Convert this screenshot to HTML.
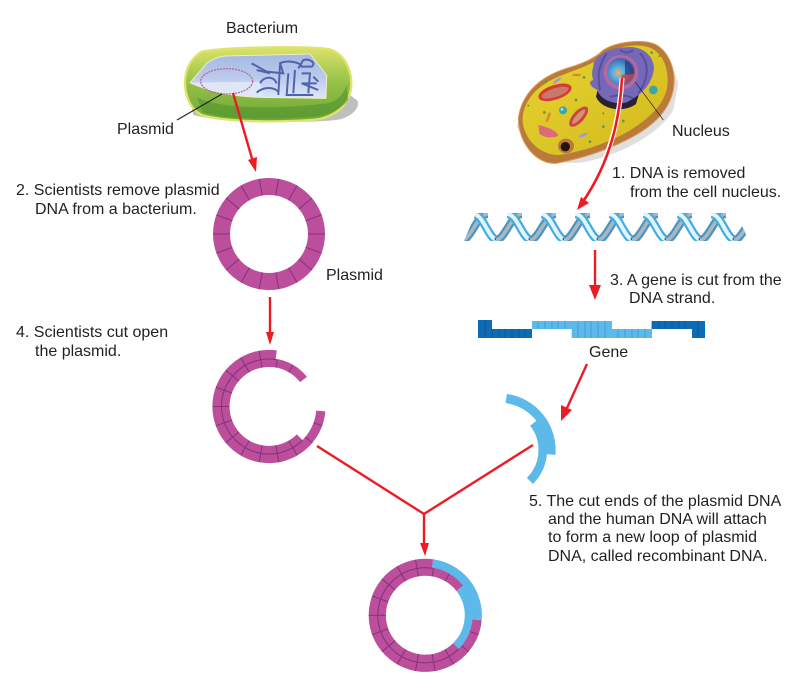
<!DOCTYPE html>
<html><head><meta charset="utf-8"><style>
html,body{margin:0;padding:0;background:#fff}
svg{display:block}
text{font-family:"Liberation Sans",sans-serif;font-size:16px;fill:#231f20}
</style></head><body>
<svg width="800" height="698" viewBox="0 0 800 698" xmlns="http://www.w3.org/2000/svg">
<defs>
<linearGradient id="bg" x1="0" y1="0" x2="0" y2="1"><stop offset="0" stop-color="#dbe26c"/><stop offset=".5" stop-color="#93c046"/><stop offset="1" stop-color="#6ea838"/></linearGradient>
<linearGradient id="bw" x1="0" y1="0" x2="0" y2="1"><stop offset="0" stop-color="#a3b8e2"/><stop offset=".55" stop-color="#bccbec"/><stop offset="1" stop-color="#dde6f5"/></linearGradient>
<radialGradient id="nu" cx=".4" cy=".55" r=".65"><stop offset="0" stop-color="#f0b060"/><stop offset=".3" stop-color="#62b0dc"/><stop offset=".75" stop-color="#3a70b8"/><stop offset="1" stop-color="#a84a80"/></radialGradient>
<linearGradient id="yl" x1="0" y1="0" x2="1" y2="1"><stop offset="0" stop-color="#e8d430"/><stop offset="1" stop-color="#d2b81e"/></linearGradient>
<g id="tile" fill="none">
<path d="M-2 27 C7 27 13 1 24 1" stroke="#4f93bd" stroke-width="8"/>
<path d="M-2 27 C7 27 13 1 24 1" stroke="#a5b8c4" stroke-width="3.5"/>
<path d="M9 1 C20 1 24 27 34 27" stroke="#45ade2" stroke-width="8.5"/>
<path d="M9 1 C20 1 24 27 34 27" stroke="#e2f5fc" stroke-width="4"/>
<circle cx="32" cy="26" r="1.5" fill="#1f6fa8"/>
</g>
<clipPath id="dc"><path d="M464 241 L476 213 H736 L749 241Z"/></clipPath>
<g id="outerArc"><path d="M320.8 411 A52 52 0 1 1 276.2 355" fill="none" stroke="#bc4f9b" stroke-width="9.2"/></g>
<g id="innerArc"><path d="M299.9 437.4 A43.75 43.75 0 1 1 303.5 379.5" fill="none" stroke="#bc4f9b" stroke-width="8.6"/></g>
<line id="ot" x1="269" y1="350" x2="269" y2="359" stroke="#86307c" stroke-width="1"/>
<line id="it" x1="269" y1="359" x2="269" y2="367" stroke="#86307c" stroke-width="1"/>
<g id="cutTicks">
<path d="M302.6 440.1 A47.5 47.5 0 1 1 276.4 359.6" fill="none" stroke="#86307c" stroke-width="1"/>
<use href="#ot" transform="rotate(110 269 406.5)"/><use href="#ot" transform="rotate(130 269 406.5)"/><use href="#ot" transform="rotate(150 269 406.5)"/><use href="#ot" transform="rotate(170 269 406.5)"/><use href="#ot" transform="rotate(190 269 406.5)"/><use href="#ot" transform="rotate(210 269 406.5)"/><use href="#ot" transform="rotate(230 269 406.5)"/><use href="#ot" transform="rotate(250 269 406.5)"/><use href="#ot" transform="rotate(270 269 406.5)"/><use href="#ot" transform="rotate(290 269 406.5)"/><use href="#ot" transform="rotate(310 269 406.5)"/><use href="#ot" transform="rotate(330 269 406.5)"/><use href="#ot" transform="rotate(350 269 406.5)"/>
<use href="#it" transform="rotate(150 269 406.5)"/><use href="#it" transform="rotate(170 269 406.5)"/><use href="#it" transform="rotate(190 269 406.5)"/><use href="#it" transform="rotate(210 269 406.5)"/><use href="#it" transform="rotate(230 269 406.5)"/><use href="#it" transform="rotate(250 269 406.5)"/><use href="#it" transform="rotate(270 269 406.5)"/><use href="#it" transform="rotate(290 269 406.5)"/><use href="#it" transform="rotate(310 269 406.5)"/><use href="#it" transform="rotate(330 269 406.5)"/><use href="#it" transform="rotate(350 269 406.5)"/><use href="#it" transform="rotate(10 269 406.5)"/><use href="#it" transform="rotate(30 269 406.5)"/>
</g>
</defs>
<rect width="800" height="698" fill="#fff"/>

<!-- Bacterium -->
<g transform="translate(170 40) scale(.3333)">
<path d="M70 225 C160 250 440 250 510 238 C560 225 572 190 560 180 L520 150 L60 180Z" fill="#aaa" opacity=".75"/>
<path d="M95 35 C180 20 420 18 480 28 C530 45 548 100 543 145 C535 205 480 238 420 240 C300 248 160 245 95 225 C55 205 38 150 48 100 C55 70 75 48 95 35Z" fill="url(#bg)" stroke="#dfe36a" stroke-width="7"/>
<path d="M80 172 C150 205 300 210 470 190 C500 185 520 165 530 135 L535 180 C500 225 440 232 390 232 C280 238 170 238 100 218Z" fill="#4d8f2d" opacity=".55"/>
<path d="M60 128 L110 70 C130 55 150 50 165 48 L420 42 L470 105 L468 175 L270 172 C200 170 130 160 60 128Z" fill="url(#bw)" stroke="#eef0c0" stroke-width="3"/>
<path d="M60 128 L270 125 L280 170 C200 170 130 160 60 128Z" fill="#dfe6f5"/>
<ellipse cx="170" cy="124" rx="78" ry="38" fill="none" stroke="#b86aa8" stroke-width="4" stroke-dasharray="6 3"/>
<g fill="none" stroke="#5064ad" stroke-width="6">
<path d="M245 70 L290 95 L340 100 L330 70 C350 60 390 65 395 80 L425 80 C440 70 420 55 400 60 L385 85 M270 130 C280 110 310 105 320 130 M260 158 C280 140 310 140 325 155"/>
<path d="M330 75 L325 165 M355 100 L350 165 L430 165 M375 90 L370 160 M395 100 L420 100 L415 160 M440 130 L395 130 L445 150 M300 100 L260 90 M430 110 L445 125"/>
</g>
</g>

<!-- Cell -->
<g transform="translate(510 40) scale(.3333)">
<path d="M20 260 C60 330 130 385 230 365 C340 340 450 280 490 210 L505 130 L480 60 L420 20 L300 60 C200 80 80 120 20 260Z" fill="#c0c0c0" opacity=".5"/>
<path d="M25 235 C35 160 90 110 170 85 C220 70 255 55 280 30 C320 5 400 -5 440 15 C480 40 500 95 490 150 C475 220 420 265 350 300 C290 330 220 355 140 370 C80 375 25 310 25 235Z" fill="#b97a3a" stroke="#d9a05a" stroke-width="3"/>
<path d="M38 232 C45 165 100 125 170 100 C225 80 260 65 285 45 C330 15 395 8 430 28 C465 50 480 100 470 150 C455 205 405 245 345 280 C285 310 220 335 145 345 C85 345 35 290 38 232Z" fill="url(#yl)"/>
<ellipse cx="168" cy="318" rx="24" ry="22" fill="#b97a3a"/><ellipse cx="166" cy="320" rx="14" ry="14" fill="#251510"/>
<g transform="rotate(-18 135 157)"><ellipse cx="135" cy="157" rx="52" ry="22" fill="#d83a3a"/><ellipse cx="135" cy="158" rx="42" ry="13" fill="#c87a6a"/></g>
<g transform="rotate(-48 206 230)"><ellipse cx="206" cy="230" rx="38" ry="17" fill="#cc4444"/><ellipse cx="206" cy="230" rx="28" ry="8" fill="#d89070"/></g>
<path d="M85 255 C110 260 135 270 145 285 C140 295 100 295 88 280Z" fill="#dc6a7a"/>
<circle cx="159" cy="211" r="12" fill="#35a8b8"/><circle cx="156" cy="208" r="4" fill="#a8e8e8"/>
<circle cx="430" cy="150" r="13" fill="#35a8a8"/>
<path d="M128 130 Q140 112 155 112 Q150 125 130 132Z" fill="#a898d0"/>
<path d="M205 290 Q220 275 235 280 Q225 292 207 292Z" fill="#a898d0"/>
<path d="M188 105 H212 M110 245 L120 218" stroke="#d88a2a" stroke-width="7" fill="none"/>
<g fill="#5c9a3c"><circle cx="108" cy="125" r="4"/><circle cx="222" cy="112" r="4"/><circle cx="198" cy="180" r="4"/><circle cx="103" cy="217" r="4"/><circle cx="280" cy="260" r="4"/><circle cx="340" cy="243" r="4"/><circle cx="240" cy="305" r="4"/><circle cx="425" cy="38" r="4"/><circle cx="448" cy="48" r="3"/><circle cx="55" cy="197" r="3"/><circle cx="225" cy="70" r="3"/><circle cx="280" cy="220" r="3"/></g>
<path d="M258 170 C275 212 345 218 378 192 L400 120 L270 120Z" fill="#2b2030"/>
<path d="M250 80 C250 50 290 25 345 22 C400 15 432 50 432 85 C428 130 395 165 350 187 C310 197 270 177 262 150 C240 140 232 125 250 120 C245 105 245 95 250 80Z" fill="#7468b8"/>
<g fill="none" stroke="#5a4e9e" stroke-width="6"><path d="M290 40 C270 70 260 100 270 150 M390 40 C420 70 415 120 385 160 M330 30 Q350 45 370 30 M300 170 Q340 160 370 175"/></g>
<circle cx="333" cy="97" r="52" fill="#b46aa0"/>
<circle cx="333" cy="95" r="42" fill="url(#nu)"/>
<path d="M345 60 A40 40 0 0 1 372 105 L345 105Z" fill="#1f3a80" opacity=".7"/>
<path d="M335 105 L375 100 L360 125 L340 130Z" fill="#c8383a" opacity=".75"/>
<path d="M375 125 L460 240" stroke="#231f20" stroke-width="2" fill="none"/>
</g>
<path d="M622 78 C620 115 612 160 578 208" fill="none" stroke="#fff" stroke-width="5"/>
<path d="M622 78 C620 115 612 160 582 203" fill="none" stroke="#ed1c24" stroke-width="2.6"/>
<path d="M577 210 L581 197 L589 203Z" fill="#ed1c24"/>

<!-- Plasmid leader -->
<path d="M177 120 L222 94" stroke="#231f20" stroke-width="1.1" fill="none"/>

<!-- DNA -->
<g clip-path="url(#dc)"><g transform="translate(0 213)">
<use href="#tile" x="464"/><use href="#tile" x="498"/><use href="#tile" x="532"/><use href="#tile" x="566"/><use href="#tile" x="600"/><use href="#tile" x="634"/><use href="#tile" x="668"/><use href="#tile" x="702"/><use href="#tile" x="736"/>
</g></g>

<!-- Ring 1 -->
<circle cx="269" cy="234" r="47.5" fill="none" stroke="#bc4f9b" stroke-width="17"/>
<g stroke="#86307c" stroke-width="1">
<line x1="269" y1="178" x2="269" y2="195" transform="rotate(-10 269 234)"/><line x1="269" y1="178" x2="269" y2="195" transform="rotate(10 269 234)"/><line x1="269" y1="178" x2="269" y2="195" transform="rotate(30 269 234)"/><line x1="269" y1="178" x2="269" y2="195" transform="rotate(50 269 234)"/><line x1="269" y1="178" x2="269" y2="195" transform="rotate(70 269 234)"/><line x1="269" y1="178" x2="269" y2="195" transform="rotate(90 269 234)"/><line x1="269" y1="178" x2="269" y2="195" transform="rotate(110 269 234)"/><line x1="269" y1="178" x2="269" y2="195" transform="rotate(130 269 234)"/><line x1="269" y1="178" x2="269" y2="195" transform="rotate(150 269 234)"/><line x1="269" y1="178" x2="269" y2="195" transform="rotate(170 269 234)"/><line x1="269" y1="178" x2="269" y2="195" transform="rotate(190 269 234)"/><line x1="269" y1="178" x2="269" y2="195" transform="rotate(210 269 234)"/><line x1="269" y1="178" x2="269" y2="195" transform="rotate(230 269 234)"/><line x1="269" y1="178" x2="269" y2="195" transform="rotate(250 269 234)"/><line x1="269" y1="178" x2="269" y2="195" transform="rotate(270 269 234)"/><line x1="269" y1="178" x2="269" y2="195" transform="rotate(290 269 234)"/><line x1="269" y1="178" x2="269" y2="195" transform="rotate(310 269 234)"/><line x1="269" y1="178" x2="269" y2="195" transform="rotate(330 269 234)"/>
</g>

<!-- Ring 2 cut -->
<use href="#outerArc"/><use href="#innerArc"/><use href="#cutTicks"/>

<!-- Blue piece -->
<g transform="translate(230 43.5)" fill="none" stroke="#5db9ea">
<path d="M276.2 355 A52 52 0 0 1 320.8 411" stroke-width="9.2"/>
<path d="M303.5 379.5 A43.75 43.75 0 0 1 299.9 437.4" stroke-width="8.6"/>
</g>

<!-- Ring 3 -->
<g transform="translate(156.3 208.8)">
<g fill="none" stroke="#5db9ea">
<path d="M276.2 355 A52 52 0 0 1 320.8 411" stroke-width="9.2"/>
<path d="M303.5 379.5 A43.75 43.75 0 0 1 299.9 437.4" stroke-width="8.6"/>
</g>
<use href="#outerArc"/><use href="#innerArc"/><use href="#cutTicks"/>
</g>

<!-- Gene -->
<path d="M478 320H492V329H532V338H478Z" fill="#0f6cb4"/>
<path d="M532 321H612V329H652V338H571.7V329H532Z" fill="#5db9ea"/>
<path d="M652 321H705V338H692V329H652Z" fill="#0f6cb4"/>
<path d="M492 329V338M499 329V338M505 329V338M512 329V338M519 329V338M525 329V338M485 320V338M652 321V329M659 321V329M665 321V329M672 321V329M679 321V329M685 321V329M698 321V338" stroke="#0a4f8c" stroke-width=".7" fill="none"/>
<path d="M538 321V329M545 321V329M552 321V329M558 321V329M565 321V329M578 321V338M585 321V338M591 321V338M598 321V338M605 321V338M618 329V338M625 329V338M632 329V338M638 329V338M645 329V338" stroke="#3a94cc" stroke-width=".7" fill="none"/>

<!-- Red arrows -->
<g stroke="#ed1c24" stroke-width="2.4" fill="none">
<path d="M233 93 L253 162"/>
<path d="M270 297 L270 335"/>
<path d="M595 250 L595 288"/>
<path d="M587 364 L567 408"/>
<path d="M317 446 L424 514 L533 445"/>
<path d="M424 514 L424 546"/>
</g>
<g fill="#ed1c24">
<path d="M256 172 L248 160 L257 157Z"/>
<path d="M270 345 L266 332 L274 332Z"/>
<path d="M595 300 L589 285 L601 285Z"/>
<path d="M561 421 L561 405 L572 410Z"/>
<path d="M425 556 L420 543 L429 543Z"/>
</g>

<!-- Text -->
<text x="226" y="33">Bacterium</text>
<text x="117" y="134">Plasmid</text>
<text x="672" y="136">Nucleus</text>
<text x="612" y="178">1. DNA is removed</text>
<text x="630" y="197">from the cell nucleus.</text>
<text x="16" y="195">2. Scientists remove plasmid</text>
<text x="35" y="214">DNA from a bacterium.</text>
<text x="326" y="280">Plasmid</text>
<text x="16" y="337">4. Scientists cut open</text>
<text x="35" y="356">the plasmid.</text>
<text x="610" y="285">3. A gene is cut from the</text>
<text x="629" y="303">DNA strand.</text>
<text x="589" y="357">Gene</text>
<text x="529" y="506">5. The cut ends of the plasmid DNA</text>
<text x="548" y="524">and the human DNA will attach</text>
<text x="548" y="542">to form a new loop of plasmid</text>
<text x="548" y="561">DNA, called recombinant DNA.</text>
</svg>
</body></html>
